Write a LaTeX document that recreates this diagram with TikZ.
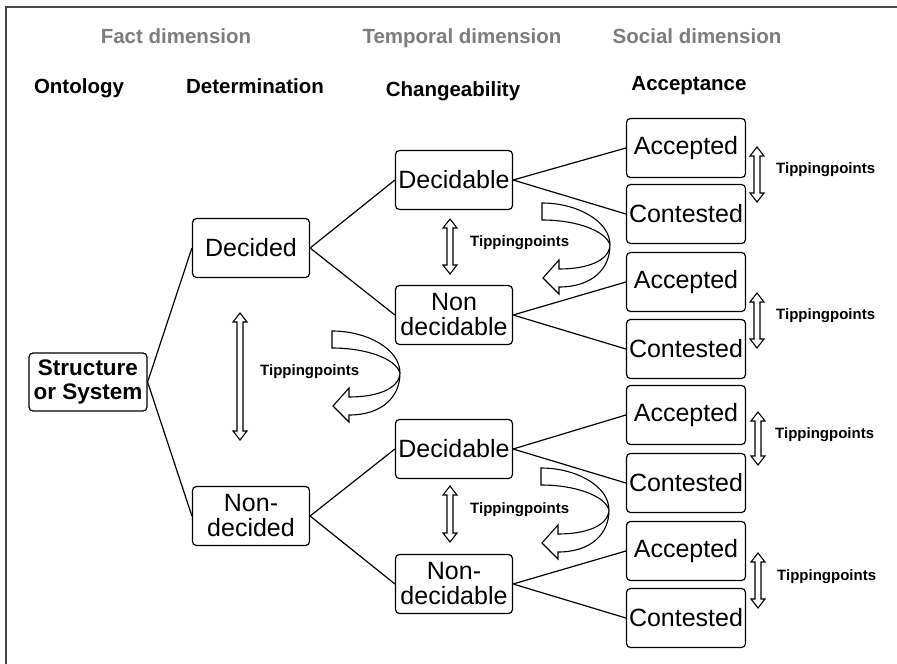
\documentclass[tikz,border=0pt]{standalone}
\usepackage{fontspec}
\setmainfont{Liberation Sans}
\definecolor{dimgray}{RGB}{125,125,125}
\definecolor{framegray}{RGB}{70,70,70}
\newcommand\dblarr[3]{%
  \draw[hollow] (#1,#2) -- (#1+7,#2+9) -- (#1+3,#2+9) -- (#1+3,#3-9) -- (#1+7,#3-9) -- (#1,#3)
    -- (#1-7,#3-9) -- (#1-3,#3-9) -- (#1-3,#2+9) -- (#1-7,#2+9) -- cycle;}
\newcommand\curvarr[2]{%
  \begin{scope}[shift={(#1,#2)}]
    \draw[hollow] (0,0) .. controls (35,0) and (68,18) .. (68,42)
      .. controls (67,58) and (45,66) .. (17,66) -- (17,57) -- (1,75) -- (17,91) -- (17,84)
      .. controls (50,84) and (68,66) .. (68,42)
      .. controls (64,28) and (35,17) .. (0,17) -- cycle;
  \end{scope}}
\begin{document}
\begin{tikzpicture}[x=1pt,y=-1pt,
  box/.style={draw, rounded corners=4pt, line width=1.2pt, minimum width=117pt,
    minimum height=59pt, inner sep=0pt, align=center, font=\fontsize{25}{25}\selectfont},
  abox/.style={box, minimum width=119pt},
  hdr/.style={font=\bfseries\fontsize{20.5}{24}\selectfont, anchor=base, inner sep=0pt},
  dimlabel/.style={hdr, text=dimgray},
  tiplabel/.style={font=\bfseries\fontsize{15}{18}\selectfont, anchor=base west, inner sep=0pt},
  link/.style={line width=1.2pt},
  hollow/.style={draw, fill=white, line width=1.1pt, line join=miter}]
\useasboundingbox (0,0) rectangle (897,664);
\draw[framegray, line width=1.6pt] (6,664) -- (6,7) -- (897,7);

% headers
\node[dimlabel] (hfact) at (176,43) {Fact dimension};
\node[dimlabel] (htemp) at (462,43) {Temporal dimension};
\node[dimlabel] (hsoc) at (697,43) {Social dimension};
\node[hdr] (hont) at (79,93) {Ontology};
\node[hdr] (hdet) at (255,93) {Determination};
\node[hdr] (hchg) at (453,96) {Changeability};
\node[hdr] (hacc) at (689,90) {Acceptance};

% boxes
\node[box, font=\bfseries\fontsize{22.5}{24}\selectfont, minimum width=118pt, minimum height=58pt] (sys) at (88,382) {Structure\\or System};
\node[box] (dec) at (251,248) {Decided};
\node[box] (ndec) at (251,516) {Non-\\decided};
\node[box] (d1) at (454,180) {Decidable};
\node[box] (n1) at (454,315) {Non\\decidable};
\node[box] (d2) at (454,449) {Decidable};
\node[box] (n2) at (454,584) {Non-\\decidable};
\node[abox] (a1) at (686,148) {Accepted};
\node[abox] (c1) at (686,214) {Contested};
\node[abox] (a2) at (686,282) {Accepted};
\node[abox] (c2) at (686,349) {Contested};
\node[abox] (a3) at (686,415) {Accepted};
\node[abox] (c3) at (686,483) {Contested};
\node[abox] (a4) at (686,551) {Accepted};
\node[abox] (c4) at (686,618) {Contested};

% connectors
\draw[link] (sys.east) -- (dec.west);
\draw[link] (sys.east) -- (ndec.west);
\draw[link] (dec.east) -- (d1.west);
\draw[link] (dec.east) -- (n1.west);
\draw[link] (ndec.east) -- (d2.west);
\draw[link] (ndec.east) -- (n2.west);
\draw[link] (d1.east) -- (a1.west);
\draw[link] (d1.east) -- (c1.west);
\draw[link] (n1.east) -- (a2.west);
\draw[link] (n1.east) -- (c2.west);
\draw[link] (d2.east) -- (a3.west);
\draw[link] (d2.east) -- (c3.west);
\draw[link] (n2.east) -- (a4.west);
\draw[link] (n2.east) -- (c4.west);

% double arrows
\dblarr{240}{313}{440}
\dblarr{450}{219}{274}
\dblarr{450}{486}{542}
\dblarr{757}{147}{202}
\dblarr{757}{293}{348}
\dblarr{758}{412}{465}
\dblarr{758}{553}{608}

% curved arrows
\curvarr{332}{331}
\curvarr{542}{203}
\curvarr{541}{468}

% tipping point labels
\node[tiplabel] (t0) at (260,375) {Tippingpoints};
\node[tiplabel] (t1) at (470,246) {Tippingpoints};
\node[tiplabel] (t2) at (470,513) {Tippingpoints};
\node[tiplabel] (t3) at (776,173) {Tippingpoints};
\node[tiplabel] (t4) at (776,319) {Tippingpoints};
\node[tiplabel] (t5) at (775,438) {Tippingpoints};
\node[tiplabel] (t6) at (777,580) {Tippingpoints};
\end{tikzpicture}
\end{document}
